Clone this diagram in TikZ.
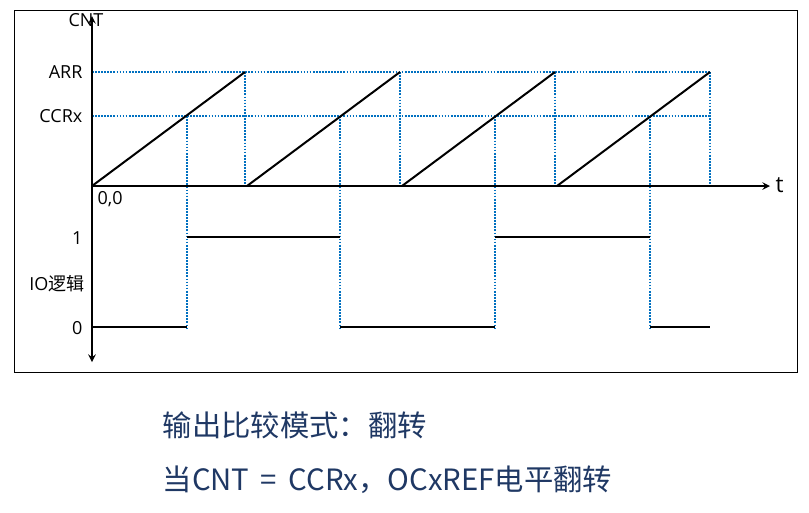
\documentclass[tikz,border=0pt]{standalone}
\usepackage{fontspec}
\setmainfont{Open Sans}
\newfontfamily\cjk{Noto Sans CJK SC}
\usetikzlibrary{arrows, positioning, calc}
\definecolor{dotblue}{RGB}{0,112,192}
\definecolor{navy}{RGB}{31,56,100}

\begin{document}
\begin{tikzpicture}[
  x=0.75pt, y=-0.75pt,
  >=stealth,
  axis/.style={->, line width=1.5pt},
  guide/.style={dotblue, densely dotted, line width=1.3pt},
  wave/.style={line width=1.5pt},
  lbl/.style={font=\fontsize{13.5}{15}\selectfont, inner sep=1pt},
  caption/.style={font=\cjk\fontsize{22}{26}\selectfont, text=navy, anchor=west}
]
\useasboundingbox (0,0) rectangle (809,512);
\draw[line width=0.6pt] (14,10) rectangle (797,372);

\coordinate (O) at (92,186);
\coordinate (Ytop) at (92,16);
\coordinate (Ybot) at (92,362);
\coordinate (Tend) at (770,186);

% guides
\draw[guide] (92,72) -- (710,72);
\draw[guide] (92,116) -- (710,116);
\foreach \x in {187, 340, 495, 650}
  \draw[guide] (\x,116) -- (\x,330);
\foreach \x in {245, 400, 555, 710}
  \draw[guide] (\x,72) -- (\x,186);

\draw[axis] (O) -- (Ytop);
\draw[axis] (O) -- (Ybot);
\draw[axis] (O) -- (Tend);

% counter
\foreach \s in {92,247,402,557}
  \draw[wave] (\s,186) -- (\s+153,72);

% output level
\draw[wave] (92,327) -- (187,327);
\draw[wave] (187,237) -- (340,237);
\draw[wave] (340,327) -- (495,327);
\draw[wave] (495,237) -- (650,237);
\draw[wave] (650,327) -- (710,327);

\node[lbl] (Cnt) at (86,20) {CNT};
\node[lbl] (Arr) at (84,72) [anchor=east] {ARR};
\node[lbl] (Ccr) at (84,116) [anchor=east] {CCRx};
\node[lbl] (Org) at (96,190) [anchor=north west] {0,0};
\node[lbl, font=\fontsize{17}{19}\selectfont] (T) at (774,185) [anchor=west] {t};
\node[lbl] (One) at (84,238) [anchor=east] {1};
\node[lbl] (Io) at (86,284) [anchor=east] {IO{\cjk 逻辑}};
\node[lbl] (Zero) at (84,328) [anchor=east] {0};

\node[caption] (Mode) at (158,425) {输出比较模式：翻转};
\node[caption] (Rule) at (158,480) {当CNT\,\ =\ \,CCRx，OCxREF电平翻转};
\end{tikzpicture}
\end{document}
